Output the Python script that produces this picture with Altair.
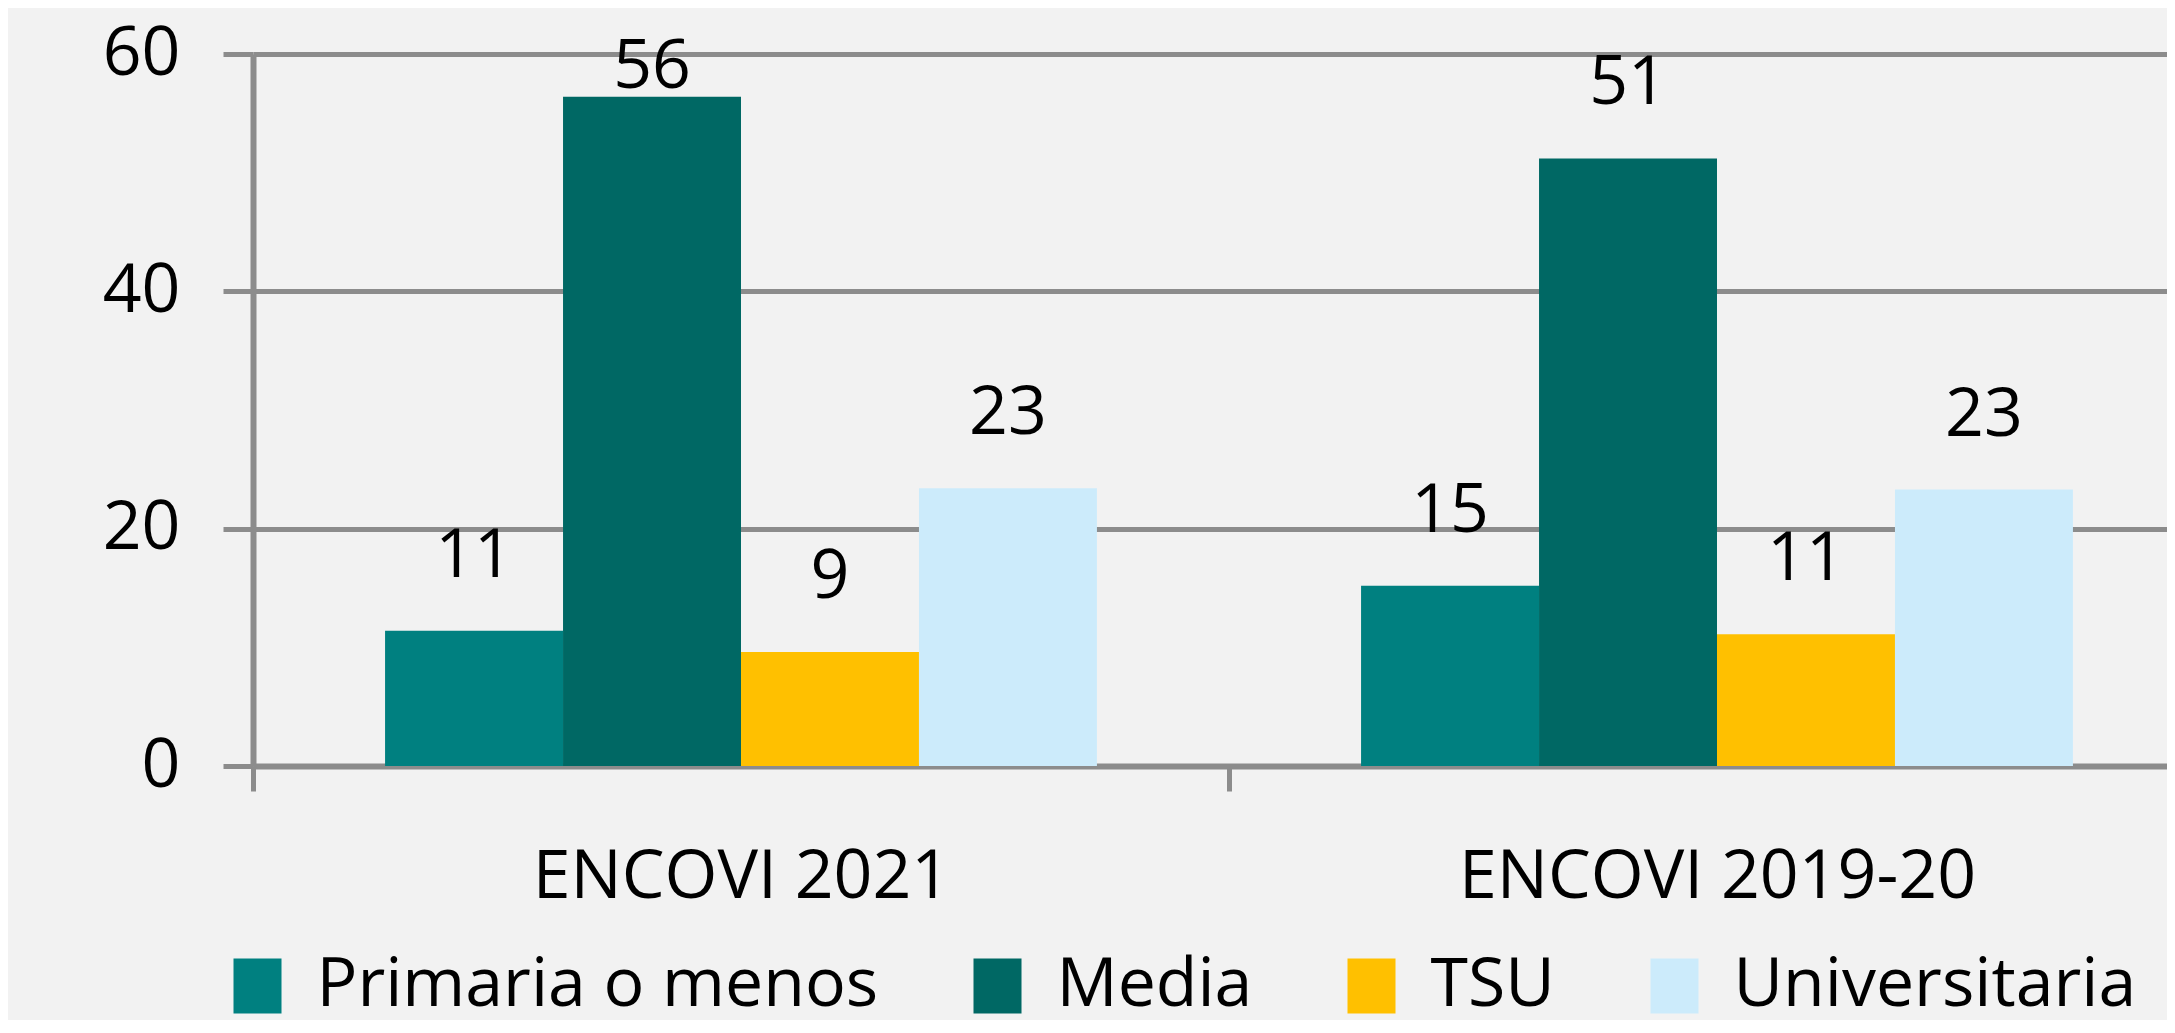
import altair as alt
import pandas as pd

# ---- data ----
categories = ["ENCOVI 2021", "ENCOVI 2019-20"]
levels = ["Primaria o menos", "Media", "TSU", "Universitaria"]
values_2021 = [11.4, 56.4, 9.6, 23.4]
values_2019 = [15.2, 51.2, 11.1, 23.3]
labels_2021 = ["11", "56", "9", "23"]
labels_2019 = ["15", "51", "11", "23"]
colors = ["#008080", "#006864", "#FFC000", "#CCEBFB"]
y_ticks = [0, 20, 40, 60]

rows = []
for cat, vals, labs in [(categories[0], values_2021, labels_2021),
                        (categories[1], values_2019, labels_2019)]:
    for lev, v, lab in zip(levels, vals, labs):
        rows.append({"periodo": cat, "nivel": lev, "valor": v, "etiqueta": lab})
df = pd.DataFrame(rows)

# ---- style ----
FONT = "Open Sans"
FS = 68
GRID = "#8C8C8C"
BAND = 976

x_enc = alt.X(
    "periodo:N", sort=categories, title=None,
    scale=alt.Scale(range=[0, 2 * BAND], paddingInner=0, paddingOuter=0),
    axis=alt.Axis(labelAngle=0, domain=True, domainColor=GRID, domainWidth=6,
                  ticks=True, tickBand="extent", tickColor=GRID, tickWidth=5,
                  tickSize=25, labelFont=FONT, labelFontSize=FS, labelColor="black",
                  labelPadding=106, labelBaseline="alphabetic", labelLimit=2000,
                  grid=False),
)
xo_enc = alt.XOffset("nivel:N", sort=levels,
                     scale=alt.Scale(paddingOuter=0.742, paddingInner=0))

y_scale = alt.Scale(domain=[0, 60], nice=False, zero=True)
y_axis = alt.Axis(values=y_ticks, grid=True, gridColor=GRID, gridWidth=5, gridOpacity=1,
                  domain=True, domainColor=GRID, domainWidth=6,
                  ticks=True, tickColor=GRID, tickWidth=5, tickSize=30,
                  labelFont=FONT, labelFontSize=FS, labelColor="black",
                  labelPadding=43, labelLimit=2000)

base = alt.Chart(df).encode(x=x_enc, xOffset=xo_enc)

bars = base.mark_bar().encode(
    y=alt.Y("valor:Q", title=None, scale=y_scale, axis=y_axis),
    color=alt.Color(
        "nivel:N", sort=levels,
        scale=alt.Scale(domain=levels, range=colors),
        legend=alt.Legend(
            title=None, orient="none", direction="horizontal", columns=4,
            legendX=-29.5, legendY=898,
            symbolType="M-0.873,-1H0.873V1H-0.873Z", symbolSize=3025,
            symbolStrokeWidth=0, symbolOpacity=1,
            labelFont=FONT, labelFontSize=FS, labelColor="black",
            labelOffset=25, columnPadding=85, labelLimit=2000,
        ),
    ),
)

text = base.mark_text(font=FONT, fontSize=FS, color="black",
                      baseline="alphabetic", align="center").encode(
    y=alt.Y("pos_etiqueta:Q", title=None, scale=y_scale, axis=y_axis),
    text="etiqueta:N",
).transform_calculate(pos_etiqueta="min(datum.valor + 4.55, 57.1)")

chart = alt.layer(bars, text).properties(
    width=1914, height=712, background="#F2F2F2",
    padding={"left": 245, "top": 46, "right": 0, "bottom": 254},
    autosize=alt.AutoSizeParams(type="none"),
).configure_view(stroke=None)

chart.save("out.html", embed_options={"renderer": "svg", "actions": False})
